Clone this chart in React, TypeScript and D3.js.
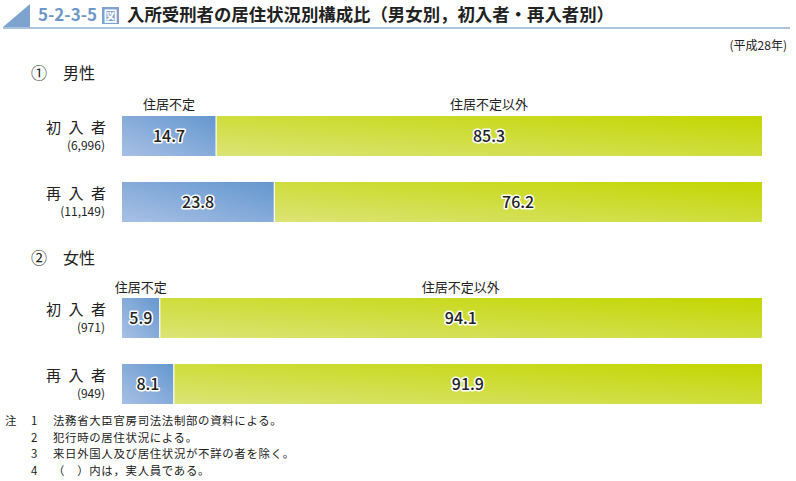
import React from "react";
import * as d3 from "d3";

const sectionNums = ["①", "②"];
const sectionNames = ["男性", "女性"];
const rowLabels = ["初入者", "再入者"];
const maleCounts = ["(6,996)", "(11,149)"];
const femaleCounts = ["(971)", "(949)"];
const maleHomeless = [14.7, 23.8];
const femaleHomeless = [5.9, 8.1];
const maleOther = [85.3, 76.2];
const femaleOther = [94.1, 91.9];
const seriesNames = ["住居不定", "住居不定以外"];
const noteNums = ["1", "2", "3", "4"];
const noteTexts = [
  "法務省大臣官房司法法制部の資料による。",
  "犯行時の居住状況による。",
  "来日外国人及び居住状況が不詳の者を除く。",
  "（　）内は，実人員である。",
];

const FONT = "'Noto Sans CJK JP', 'Noto Sans', sans-serif";

export default function App() {
  const W = 796, H = 481;
  const x = d3.scaleLinear().domain([0, 100]).range([122, 762]);
  const groups = [
    { homeless: maleHomeless, other: maleOther, counts: maleCounts, titleY: 79, labelY: 109, rowY: [116, 182] },
    { homeless: femaleHomeless, other: femaleOther, counts: femaleCounts, titleY: 264, labelY: 292, rowY: [298, 364] },
  ];
  const barH = 40;
  const fmt = d3.format(".1f");
  return (
    <svg width={W} height={H} style={{ position: "absolute", left: 0, top: 0, fontFamily: FONT }}>
      <defs>
        <linearGradient id="gBlue" x1="0" y1="1" x2="1" y2="0">
          <stop offset="0" stopColor="#a8c0e5" />
          <stop offset="1" stopColor="#6497cf" />
        </linearGradient>
        <linearGradient id="gGreen" x1="0" y1="1" x2="1" y2="0">
          <stop offset="0" stopColor="#dbe476" />
          <stop offset="1" stopColor="#c3d600" />
        </linearGradient>
      </defs>
      {/* title */}
      <path d="M3,27 L30,4 L30,27 Z" fill="#7ea3cf" />
      <line x1={3} x2={790} y1={28} y2={28} stroke="#8eaed0" strokeWidth={1.5} />
      <text x={38} y={21} fontSize={17} fontWeight="bold" fill="#6e97c9">5-2-3-5</text>
      <rect x={102} y={7} width={17} height={17} fill="#7ea3cf" />
      <text x={110.5} y={21} fontSize={14} fontWeight="bold" fill="#fff" textAnchor="middle">図</text>
      <text x={127} y={21} fontSize={17.4} fontWeight="bold" fill="#222">入所受刑者の居住状況別構成比（男女別，初入者・再入者別）</text>
      <text x={787} y={50} fontSize={12} fill="#222" textAnchor="end">(平成28年)</text>
      {groups.map((g, gi) => {
        const h0 = g.homeless[0];
        return (
          <g key={gi}>
            <text x={31} y={g.titleY} fontSize={16} fill="#222">{sectionNums[gi]}</text>
            <text x={63} y={g.titleY} fontSize={16} fill="#222">{sectionNames[gi]}</text>
            <text x={(x(0) + x(h0)) / 2} y={g.labelY} fontSize={13} fill="#222" textAnchor="middle">{seriesNames[0]}</text>
            <text x={(x(h0) + x(100)) / 2} y={g.labelY} fontSize={13} fill="#222" textAnchor="middle">{seriesNames[1]}</text>
            {g.rowY.map((ry, ri) => {
              const h = g.homeless[ri];
              const o = g.other[ri];
              const chars = rowLabels[ri].split("");
              return (
                <g key={ri}>
                  {chars.map((c, ci) => (
                    <text key={ci} x={106 - (chars.length - 1 - ci) * 22.5} y={ry + 17} fontSize={15} fill="#222" textAnchor="end">{c}</text>
                  ))}
                  <text x={105} y={ry + 34} fontSize={12} fill="#222" textAnchor="end">{g.counts[ri]}</text>
                  <rect x={x(0)} y={ry} width={x(h) - x(0)} height={barH} fill="url(#gBlue)" />
                  <rect x={x(h)} y={ry} width={x(h + o) - x(h)} height={barH} fill="url(#gGreen)" />
                  <line x1={x(h)} x2={x(h)} y1={ry} y2={ry + barH} stroke="#fff" strokeWidth={1.2} />
                  <text x={(x(0) + x(h)) / 2} y={ry + 26} fontSize={16} fill="#222" textAnchor="middle"
                    stroke="#fff" strokeWidth={3} paintOrder="stroke" strokeLinejoin="round" fontWeight="500">{fmt(h)}</text>
                  <text x={(x(h) + x(h + o)) / 2} y={ry + 26} fontSize={16} fill="#222" textAnchor="middle"
                    stroke="#fff" strokeWidth={3} paintOrder="stroke" strokeLinejoin="round" fontWeight="500">{fmt(o)}</text>
                </g>
              );
            })}
          </g>
        );
      })}
      <text x={5} y={425} fontSize={11.4} fill="#222">注</text>
      {noteNums.map((n, i) => (
        <g key={i}>
          <text x={31} y={425 + i * 16.7} fontSize={11.4} fill="#222">{n}</text>
          <text x={53} y={425 + i * 16.7} fontSize={11.4} letterSpacing={0.7} fill="#222">{noteTexts[i]}</text>
        </g>
      ))}
    </svg>
  );
}
